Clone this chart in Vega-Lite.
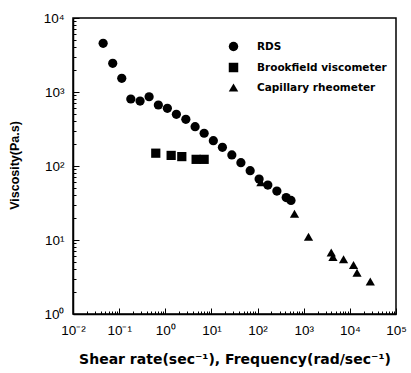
{
  "$schema": "https://vega.github.io/schema/vega-lite/v6.json",
  "width": 323,
  "height": 296,
  "padding": {"left": 73, "top": 18, "right": 15, "bottom": 59},
  "autosize": {"type": "none"},
  "background": "white",
  "config": {
    "view": {"stroke": "black", "strokeWidth": 1.5},
    "font": "Liberation Sans"
  },
  "data": {
    "values": [
      {"series": "RDS", "x": 0.045, "y": 4550},
      {"series": "RDS", "x": 0.0726, "y": 2440},
      {"series": "RDS", "x": 0.114, "y": 1530},
      {"series": "RDS", "x": 0.179, "y": 804},
      {"series": "RDS", "x": 0.284, "y": 755},
      {"series": "RDS", "x": 0.446, "y": 863},
      {"series": "RDS", "x": 0.708, "y": 667},
      {"series": "RDS", "x": 1.11, "y": 602},
      {"series": "RDS", "x": 1.74, "y": 500},
      {"series": "RDS", "x": 2.79, "y": 428},
      {"series": "RDS", "x": 4.43, "y": 340},
      {"series": "RDS", "x": 6.95, "y": 277},
      {"series": "RDS", "x": 11.0, "y": 220},
      {"series": "RDS", "x": 17.3, "y": 179},
      {"series": "RDS", "x": 27.7, "y": 141},
      {"series": "RDS", "x": 43.5, "y": 111},
      {"series": "RDS", "x": 69.1, "y": 86.4},
      {"series": "RDS", "x": 108, "y": 66.7},
      {"series": "RDS", "x": 167, "y": 55.3},
      {"series": "RDS", "x": 262, "y": 45.9},
      {"series": "RDS", "x": 417, "y": 37.5},
      {"series": "RDS", "x": 530, "y": 34.2},
      {"series": "Brookfield viscometer", "x": 0.622, "y": 149},
      {"series": "Brookfield viscometer", "x": 1.34, "y": 139},
      {"series": "Brookfield viscometer", "x": 2.28, "y": 134},
      {"series": "Brookfield viscometer", "x": 4.66, "y": 123},
      {"series": "Brookfield viscometer", "x": 6.95, "y": 123},
      {"series": "Capillary rheometer", "x": 118, "y": 60.5},
      {"series": "Capillary rheometer", "x": 631, "y": 22.6},
      {"series": "Capillary rheometer", "x": 1270, "y": 11.1},
      {"series": "Capillary rheometer", "x": 3950, "y": 6.8},
      {"series": "Capillary rheometer", "x": 4300, "y": 5.9},
      {"series": "Capillary rheometer", "x": 7300, "y": 5.5},
      {"series": "Capillary rheometer", "x": 12000, "y": 4.6},
      {"series": "Capillary rheometer", "x": 14300, "y": 3.6},
      {"series": "Capillary rheometer", "x": 27700, "y": 2.75}
    ]
  },
  "mark": {"type": "point", "filled": true, "opacity": 1, "color": "black", "size": 85},
  "encoding": {
    "x": {
      "field": "x",
      "type": "quantitative",
      "scale": {"type": "log", "domain": [0.01, 100000], "nice": false},
      "axis": {
        "title": "Shear rate(sec⁻¹), Frequency(rad/sec⁻¹)",
        "titleFont": "DejaVu Sans",
        "titleFontSize": 14,
        "titleFontWeight": "bold",
        "titleColor": "black",
        "titlePadding": 13,
        "values": [0.01,0.02,0.03,0.04,0.05,0.06,0.07,0.08,0.09,0.1,0.2,0.3,0.4,0.5,0.6,0.7,0.8,0.9,1,2,3,4,5,6,7,8,9,10,20,30,40,50,60,70,80,90,100,200,300,400,500,600,700,800,900,1000,2000,3000,4000,5000,6000,7000,8000,9000,10000,20000,30000,40000,50000,60000,70000,80000,90000,100000],
        "labelExpr": "datum.value == 0.01 ? '10⁻²' : datum.value == 0.1 ? '10⁻¹' : datum.value == 1 ? '10⁰' : datum.value == 10 ? '10¹' : datum.value == 100 ? '10²' : datum.value == 1000 ? '10³' : datum.value == 10000 ? '10⁴' : datum.value == 100000 ? '10⁵' : ''",
        "labelOverlap": false,
        "labelFlush": false,
        "labelFont": "Liberation Sans",
        "labelFontSize": 13.5,
        "labelColor": "black",
        "labelPadding": 15,
        "grid": false,
        "domainColor": "black",
        "domainWidth": 1.5,
        "tickColor": "black",
        "tickSize": {"condition": {"test": "abs(log(datum.value)/LN10 - round(log(datum.value)/LN10)) < 0.000001", "value": -6}, "value": -3}
      }
    },
    "y": {
      "field": "y",
      "type": "quantitative",
      "scale": {"type": "log", "domain": [1, 10000], "nice": false},
      "axis": {
        "title": "Viscosity(Pa.s)",
        "titleFont": "Liberation Sans",
        "titleFontSize": 12.5,
        "titleFontWeight": "bold",
        "titleColor": "black",
        "titleX": -52,
        "titleY": 147,
        "values": [1,2,3,4,5,6,7,8,9,10,20,30,40,50,60,70,80,90,100,200,300,400,500,600,700,800,900,1000,2000,3000,4000,5000,6000,7000,8000,9000,10000],
        "labelExpr": "datum.value == 1 ? '10⁰' : datum.value == 10 ? '10¹' : datum.value == 100 ? '10²' : datum.value == 1000 ? '10³' : datum.value == 10000 ? '10⁴' : ''",
        "labelOverlap": false,
        "labelFlush": false,
        "labelFont": "Liberation Sans",
        "labelFontSize": 13.5,
        "labelColor": "black",
        "labelPadding": 15,
        "grid": false,
        "domainColor": "black",
        "domainWidth": 1.5,
        "tickColor": "black",
        "tickSize": {"condition": {"test": "abs(log(datum.value)/LN10 - round(log(datum.value)/LN10)) < 0.000001", "value": -6}, "value": -3}
      }
    },
    "shape": {
      "field": "series",
      "type": "nominal",
      "scale": {
        "domain": ["RDS", "Brookfield viscometer", "Capillary rheometer"],
        "range": ["circle", "square", "triangle-up"]
      },
      "legend": {
        "title": null,
        "orient": "none",
        "legendX": 155,
        "legendY": 23,
        "padding": 0,
        "symbolFillColor": "black",
        "symbolStrokeColor": "black",
        "symbolSize": 90,
        "rowPadding": 4,
        "labelFont": "DejaVu Sans",
        "labelFontSize": 10.5,
        "labelFontWeight": "bold",
        "labelColor": "black",
        "labelOffset": 18
      }
    }
  }
}
